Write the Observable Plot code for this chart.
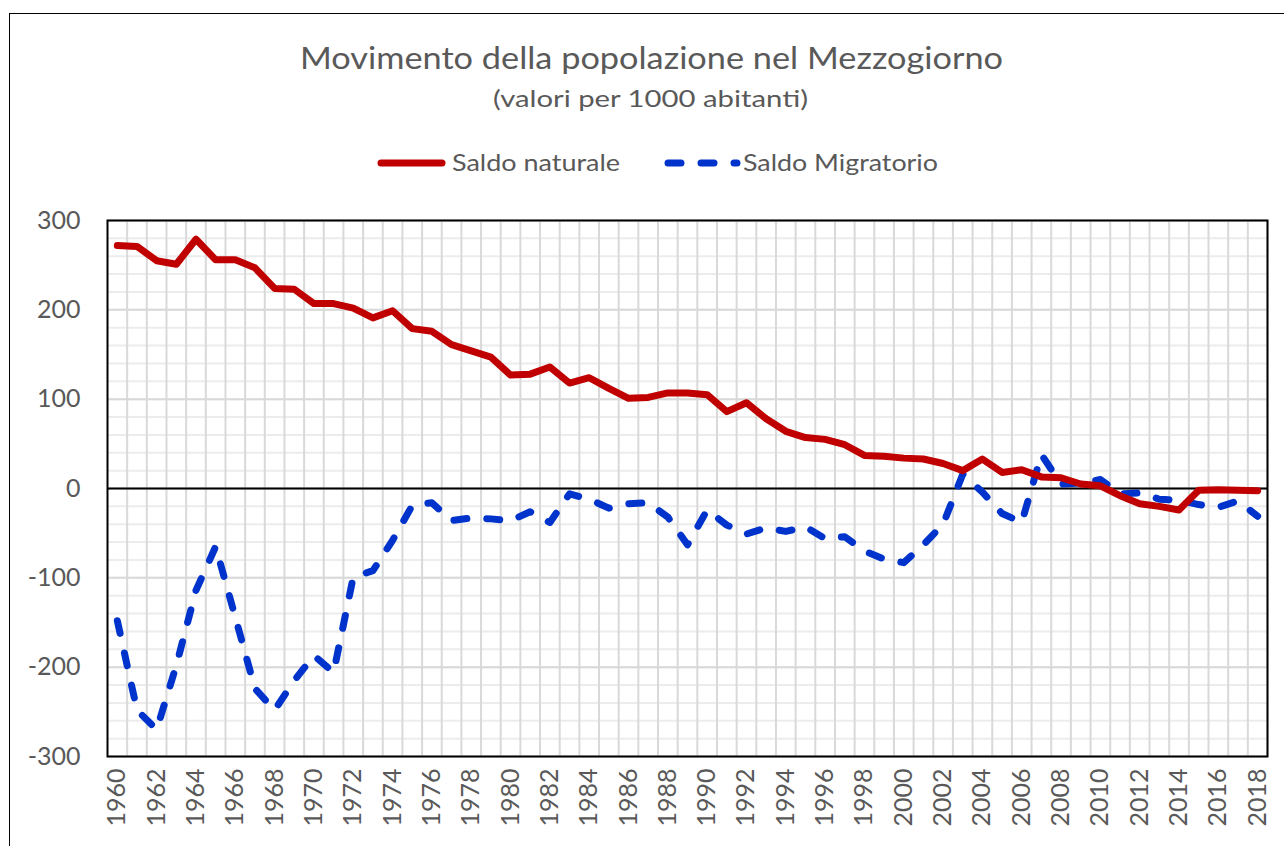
<!DOCTYPE html>
<html>
<head>
<meta charset="utf-8">
<script src="https://cdn.jsdelivr.net/npm/d3@7"></script>
<script src="https://cdn.jsdelivr.net/npm/@observablehq/plot@0.6"></script>
<style>
  html, body { margin: 0; padding: 0; background: #fff; }
  body { width: 1284px; height: 846px; overflow: hidden; position: relative; font-family: Lato, "Open Sans", sans-serif; }
  #frame { position: absolute; left: 9px; top: 13px; width: 1400px; height: 1000px; border-left: 1.5px solid #000; border-top: 1.5px solid #000; pointer-events: none; }
  #header { display: block; }
  #chart svg { display: block; }
</style>
</head>
<body>
<svg id="header" width="1284" height="200"></svg>
<div id="chart"></div>
<div id="frame"></div>
<script>
// ---- data ----
const years = [1960,1961,1962,1963,1964,1965,1966,1967,1968,1969,
               1970,1971,1972,1973,1974,1975,1976,1977,1978,1979,
               1980,1981,1982,1983,1984,1985,1986,1987,1988,1989,
               1990,1991,1992,1993,1994,1995,1996,1997,1998,1999,
               2000,2001,2002,2003,2004,2005,2006,2007,2008,2009,
               2010,2011,2012,2013,2014,2015,2016,2017,2018];
const saldoNaturale = [272,271,255,251,279,256,256,247,224,223,
                       207,207,202,191,199,179,176,161,154,147,
                       127,128,136,118,124,112,101,102,107,107,
                       105,86,96,78,64,57,55,49,37,36,
                       34,33,28,20,33,18,21,13,12,5,
                       3,-8,-17,-20,-24,-2,-1.5,-2,-2.5];
const saldoMigratorio = [-148,-248,-270,-198,-114,-65,-144,-224,-248,-215,
                         -187,-206,-99,-92,-58,-19,-16,-36,-33,-34,
                         -36,-26,-38,-6,-12,-22,-17,-16,-32,-63,
                         -24,-41,-51,-44,-48,-43,-56,-54,-70,-79,
                         -83,-63,-40,16,-4,-28,-38,38,5,6,
                         10,-6,-5,-12,-13,-18,-21,-14,-31];
const xTickYears = [1960,1962,1964,1966,1968,1970,1972,1974,1976,1978,1980,1982,1984,1986,1988,
                    1990,1992,1994,1996,1998,2000,2002,2004,2006,2008,2010,2012,2014,2016,2018];
const yTicks = [-300,-200,-100,0,100,200,300];
const yMinor = d3.range(-300, 301, 20);
const seriesNames = ["Saldo naturale", "Saldo Migratorio"];
const title = "Movimento della popolazione nel Mezzogiorno";
const subtitle = "(valori per 1000 abitanti)";

const RED = "#c00000", BLUE = "#0033cc", TEXT = "#595959";
const DASH = "13,20";
const LW = 7;

const natData = years.map((year, i) => ({year, value: saldoNaturale[i]}));
const migData = years.map((year, i) => ({year, value: saldoMigratorio[i]}));
const bandEdges = years.map(y => y + 0.5);

// ---- header (title, subtitle, legend) ----
const hdr = d3.select("#header");
hdr.append("text").attr("x", 300).attr("y", 69).attr("textLength", 703).attr("lengthAdjust", "spacingAndGlyphs")
   .attr("fill", TEXT).style("font-size", "31px").style("font-family", "Lato").text(title);
hdr.append("text").attr("x", 493).attr("y", 107).attr("textLength", 315).attr("lengthAdjust", "spacingAndGlyphs")
   .attr("fill", TEXT).style("font-size", "24px").style("font-family", "Lato").text(subtitle);
hdr.append("line").attr("x1", 381).attr("x2", 442).attr("y1", 163).attr("y2", 163)
   .attr("stroke", RED).attr("stroke-width", LW).attr("stroke-linecap", "round");
hdr.append("text").attr("x", 452).attr("y", 171).attr("textLength", 168).attr("lengthAdjust", "spacingAndGlyphs")
   .attr("fill", TEXT).style("font-size", "23px").style("font-family", "Lato").text(seriesNames[0]);
hdr.append("line").attr("x1", 668).attr("x2", 737).attr("y1", 163).attr("y2", 163)
   .attr("stroke", BLUE).attr("stroke-width", LW).attr("stroke-linecap", "round").attr("stroke-dasharray", DASH);
hdr.append("text").attr("x", 743).attr("y", 171).attr("textLength", 195).attr("lengthAdjust", "spacingAndGlyphs")
   .attr("fill", TEXT).style("font-size", "23px").style("font-family", "Lato").text(seriesNames[1]);

// ---- chart ----
const chart = Plot.plot({
  width: 1284,
  height: 646,
  marginLeft: 107,
  marginRight: 17,
  marginTop: 20,
  marginBottom: 90,
  style: {fontFamily: "Lato", fontSize: "25px", color: TEXT, background: "white", overflow: "visible"},
  x: {domain: [1959.5, 2018.5], ticks: xTickYears, tickFormat: d => String(d), tickRotate: -90, tickSize: 0, tickPadding: 12, label: null},
  y: {domain: [-300, 300], ticks: yTicks, tickFormat: d => String(d), tickSize: 0, tickPadding: 27, label: null},
  marks: [
    Plot.ruleY(yMinor, {stroke: "#ececec", strokeWidth: 2}),
    Plot.ruleY(yTicks, {stroke: "#d9d9d9", strokeWidth: 2}),
    Plot.ruleX(bandEdges, {stroke: "#d9d9d9", strokeWidth: 2}),
    Plot.ruleY([0], {stroke: "#000", strokeWidth: 2}),
    Plot.line(migData, {x: "year", y: "value", stroke: BLUE, strokeWidth: LW, strokeLinecap: "round", strokeLinejoin: "round", strokeDasharray: DASH}),
    Plot.line(natData, {x: "year", y: "value", stroke: RED, strokeWidth: LW, strokeLinecap: "round", strokeLinejoin: "round"}),
    Plot.frame({stroke: "#000", strokeWidth: 2})
  ]
});
document.getElementById("chart").appendChild(chart);
</script>
</body>
</html>
